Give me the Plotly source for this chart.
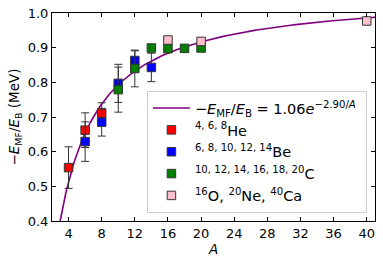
import numpy as np
import plotly.graph_objects as go

# ---- data ----
he_A = [4, 6, 8]
he_val = [0.554, 0.662, 0.711]
he_err = [0.060, 0.050, 0.030]

be_A = [6, 8, 10, 12, 14]
be_val = [0.629, 0.685, 0.797, 0.863, 0.843]
be_err = [0.057, 0.040, 0.055, 0.028, 0.041]

c_A = [10, 12, 14, 16, 18, 20]
c_val = [0.779, 0.840, 0.899, 0.897, 0.898, 0.899]
c_err = [0.065, 0.053, 0.008, 0.008, 0.008, 0.008]

o_A = [16, 20, 40]
o_val = [0.922, 0.918, 0.977]
o_err = [0.005, 0.005, 0.005]

fit_a = 1.06
fit_b = 2.90

x_ticks = [4, 8, 12, 16, 20, 24, 28, 32, 36, 40]
y_ticks = [0.4, 0.5, 0.6, 0.7, 0.8, 0.9, 1.0]

FONT = "DejaVu Sans"
fig = go.Figure()

A_curve = np.linspace(2.9, 41.5, 400)
fig.add_trace(go.Scatter(
    x=A_curve, y=fit_a * np.exp(-fit_b / A_curve), mode="lines",
    line=dict(color="#800080", width=1.6),
    name="−<i>E</i><sub>MF</sub>/<i>E</i><sub>B</sub> = 1.06<i>e</i><sup>−2.90/<i>A</i></sup>&nbsp;"))

def add_series(A, v, e, color, name):
    fig.add_trace(go.Scatter(
        x=A, y=v, mode="markers", name=name,
        marker=dict(symbol="square", size=8.5, color=color,
                    line=dict(color="#333333", width=1)),
        error_y=dict(type="data", array=e, visible=True,
                     color="#333333", thickness=1, width=4)))

add_series(he_A, he_val, he_err, "#ff0000", "<sup>4, 6, 8</sup>He")
add_series(be_A, be_val, be_err, "#0000ff", "<sup>6, 8, 10, 12, 14</sup>Be")
add_series(c_A, c_val, c_err, "#008000", "<sup>10, 12, 14, 16, 18, 20</sup>C")
add_series(o_A, o_val, o_err, "#ffc0cb", "<sup>16</sup>O, <sup>20</sup>Ne, <sup>40</sup>Ca")

axis_common = dict(showline=True, linecolor="black", linewidth=1, mirror="ticks",
                   ticks="inside", ticklen=4, tickcolor="black", showgrid=False,
                   zeroline=False, automargin=False,
                   tickfont=dict(family=FONT, size=13, color="black"))

fig.update_xaxes(range=[2, 41], tickvals=x_ticks, ticktext=[str(t) for t in x_ticks],
                 title=dict(text="<i>A</i>", font=dict(family=FONT, size=13.5, color="black"),
                            standoff=2),
                 **axis_common)
fig.update_yaxes(range=[0.4, 1.0], tickvals=y_ticks, ticktext=[f"{t:.1f}" for t in y_ticks],
                 title=dict(text="−<i>E</i><sub>MF</sub>/<i>E</i><sub>B</sub> (MeV)",
                            font=dict(family=FONT, size=13.5, color="black"), standoff=4),
                 **axis_common)

fig.update_layout(
    width=383, height=265,
    margin=dict(l=52, r=8, t=13, b=44, autoexpand=False),
    paper_bgcolor="white", plot_bgcolor="white",
    font=dict(family=FONT, color="black"),
    legend=dict(x=0.975, y=0.038, xanchor="right", yanchor="bottom",
                bgcolor="rgba(255,255,255,0.85)", bordercolor="#cccccc", borderwidth=1,
                font=dict(family=FONT, size=14.5, color="black"),
                itemwidth=37, tracegroupgap=0),
    showlegend=True,
)

fig.write_html("out.html", config={"displayModeBar": False},
               post_script="document.body.style.margin='0px';document.body.style.padding='0px';")
